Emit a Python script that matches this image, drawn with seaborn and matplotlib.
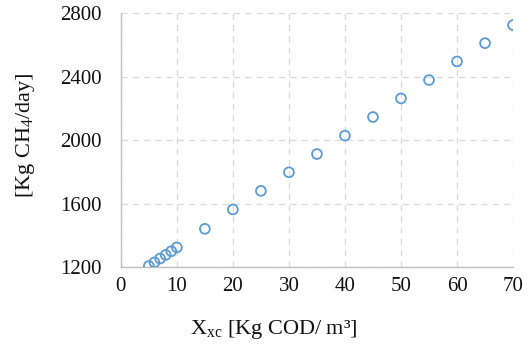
import matplotlib
matplotlib.use("Agg")
import matplotlib.pyplot as plt
import seaborn as sns
import pandas as pd

x_vals = [5, 6, 7, 8, 9, 10, 15, 20, 25, 30, 35, 40, 45, 50, 55, 60, 65, 70]
y_vals = [1207, 1230, 1254, 1277, 1300, 1324, 1441, 1563, 1680, 1797, 1912, 2028, 2145, 2262, 2378, 2495, 2610, 2724]
x_ticks = [0, 10, 20, 30, 40, 50, 60, 70]
y_ticks = [1200, 1600, 2000, 2400, 2800]

sns.set_style("white")
plt.rcParams['font.family'] = ['Liberation Serif', 'DejaVu Serif']
plt.rcParams['mathtext.fontset'] = 'custom'
plt.rcParams['mathtext.rm'] = 'Liberation Serif'
plt.rcParams['mathtext.it'] = 'Liberation Serif'

df = pd.DataFrame({"x": x_vals, "y": y_vals})
fig = plt.figure(figsize=(5.3, 3.51), dpi=100)
ax = fig.add_axes([0.228, 0.239, 0.740, 0.724])
sns.scatterplot(data=df, x="x", y="y", ax=ax, marker="o", s=50,
                facecolors="none", edgecolor="#5B9BD5", linewidth=1.3, zorder=3)
ax.set_xlim(0, 70)
ax.set_ylim(1200, 2800)
ax.set_xticks(x_ticks)
ax.set_yticks(y_ticks)
ax.tick_params(axis="y", labelsize=15, length=0, pad=14, colors="#111111")
ax.tick_params(axis="x", labelsize=15, length=0, pad=7, colors="#111111")
ax.grid(True, linestyle=(0, (5, 4)), color="#d9d9d9", linewidth=0.9)
for s in ["top", "right"]:
    ax.spines[s].set_visible(False)
for s in ["left", "bottom"]:
    ax.spines[s].set_color("#bfbfbf")
    ax.spines[s].set_linewidth(1.0)
ax.set_xlabel(r"X$_{\mathrm{xc}}$ [Kg COD/ m³]", fontsize=16, color="#111111")
ax.xaxis.set_label_coords(0.39, -0.2)
ax.set_ylabel(r"[Kg CH$_{4}$/day]", fontsize=16, color="#111111")
ax.yaxis.set_label_coords(-0.215, 0.52)
fig.savefig("out.png", dpi=100)
